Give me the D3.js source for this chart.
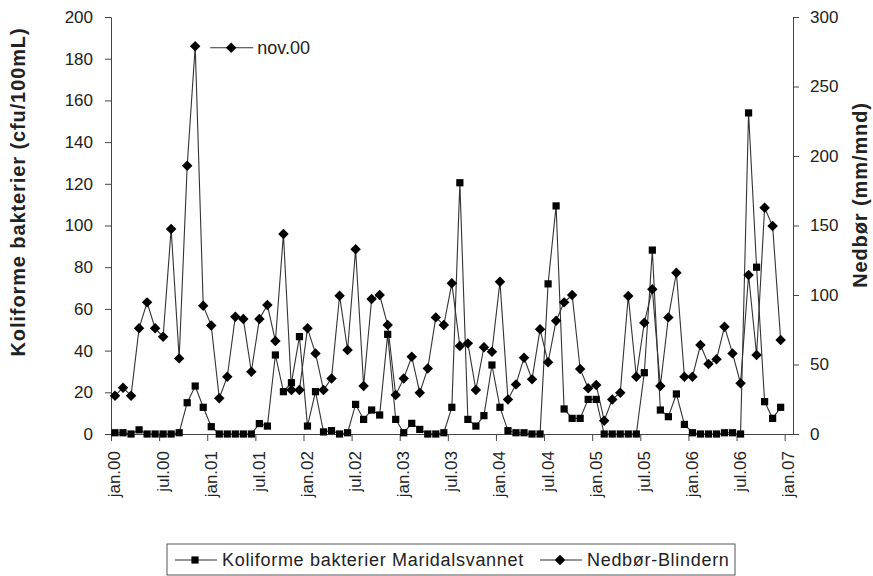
<!DOCTYPE html>
<html>
<head>
<meta charset="utf-8">
<script src="https://cdn.jsdelivr.net/npm/d3@7"></script>
<style>
  body { margin: 0; background: #fff; }
  svg text { font-family: "Liberation Sans", Arial, sans-serif; fill: #222; }
  .axisTitle { font-weight: bold; }
</style>
</head>
<body>
<div id="chart"></div>
<script>
// months jan.00 .. dec.06
var monthNames = ["jan", "feb", "mar", "apr", "mai", "jun", "jul", "aug", "sep", "okt", "nov", "des"];
var years = ["00", "01", "02", "03", "04", "05", "06"];
var tickLabels = ["jan.00", "jul.00", "jan.01", "jul.01", "jan.02", "jul.02", "jan.03", "jul.03",
  "jan.04", "jul.04", "jan.05", "jul.05", "jan.06", "jul.06", "jan.07"];

// Koliforme bakterier Maridalsvannet (cfu/100mL), left axis
var koliforme = [
  0.6, 0.6, 0, 2, 0, 0, 0, 0, 0.6, 15, 23, 12.8,
  3.5, 0, 0, 0, 0, 0, 5, 3.8, 37.9, 20.3, 24.6, 46.7,
  3.8, 20.3, 1, 1.6, 0, 0.6, 14.2, 7, 11.5, 9.1, 47.8, 7,
  0.6, 5.1, 2.2, 0, 0, 0.6, 12.8, 120.5, 7, 3.8, 8.8, 33.1,
  12.8, 1.6, 0.6, 0.6, 0, 0, 72, 109.4, 12, 7.5, 7.5, 16.6,
  16.6, 0, 0, 0, 0, 0, 29.4, 88.2, 11.5, 8.3, 19.2, 4.6,
  0.6, 0, 0, 0, 0.6, 0.6, 0, 154, 80, 15.5, 7.5, 12.8
];

// Nedbør-Blindern (mm/mnd), right axis
var nedbor = [
  27.6, 33.3, 27.6, 76, 94.7, 76, 70, 147.5, 54.4, 193, 279, 92.3,
  78, 25.7, 41.2, 84.4, 82.7, 44.8, 82.7, 92.8, 66.9, 143.9, 31.7, 31.7,
  76, 58, 31.7, 40, 99.5, 60.4, 132.9, 34.5, 97.1, 100, 78.4, 28,
  40, 55.6, 29.7, 47.2, 83.9, 78.4, 108.4, 63.3, 65.2, 31.7, 62.4, 59.2,
  109.6, 24.9, 35.7, 54.9, 39.3, 75.3, 51.6, 81.5, 94.7, 100, 46.8, 32.9,
  35.3, 9.6, 24.9, 29.7, 99.3, 41.2, 80.1, 104.1, 34.5, 83.9, 116, 41.2,
  41.2, 64, 50.4, 53.7, 77.2, 58, 36.5, 114.4, 56.8, 162.8, 149.6, 67.6
];

var leftTicks = [0, 20, 40, 60, 80, 100, 120, 140, 160, 180, 200];
var rightTicks = [0, 50, 100, 150, 200, 250, 300];

var categories = [];
years.forEach(function(y) {
  monthNames.forEach(function(m) { categories.push(m + "." + y); });
});

var svgWidth = 873, svgHeight = 576;
var margin = { top: 17, bottom: 142, left: 111, right: 80 };
var width = svgWidth - margin.left - margin.right;
var height = svgHeight - margin.top - margin.bottom;

var svg = d3.select("#chart").append("svg")
  .attr("width", svgWidth)
  .attr("height", svgHeight);

var chartGroup = svg.append("g")
  .attr("transform", `translate(${margin.left}, ${margin.top})`);

// x: month index, each month is a band, point in the middle
var xScale = d3.scaleLinear().domain([0, 85.04]).range([0, width]);
var yLeft = d3.scaleLinear().domain([0, 200]).range([height, 0]);
var yRight = d3.scaleLinear().domain([0, 300]).range([height, 0]);

// axes
var xAxis = d3.axisBottom(xScale)
  .tickValues(tickLabels.map(function(d, i) { return i * 6; }))
  .tickFormat(function(d, i) { return tickLabels[i]; })
  .tickSize(7).tickSizeOuter(0);

var xg = chartGroup.append("g")
  .attr("transform", `translate(0, ${height})`)
  .call(xAxis);
xg.selectAll("text")
  .attr("transform", "rotate(-90)")
  .attr("text-anchor", "end")
  .attr("x", -17)
  .attr("y", 3)
  .attr("dy", "0.35em")
  .style("font-size", "17px");

var yg = chartGroup.append("g")
  .call(d3.axisLeft(yLeft).tickValues(leftTicks).tickSize(6).tickSizeOuter(0).tickPadding(12));
yg.selectAll("text").style("font-size", "17px");

var yg2 = chartGroup.append("g")
  .attr("transform", `translate(${width}, 0)`)
  .call(d3.axisRight(yRight).tickValues(rightTicks).tickSize(6).tickSizeOuter(0).tickPadding(11));
yg2.selectAll("text").style("font-size", "17px");

chartGroup.selectAll(".domain, .tick line").attr("stroke", "#444");

// lines
var lineK = d3.line()
  .x(function(d, i) { return xScale(i + 0.5); })
  .y(function(d) { return yLeft(d); });
var lineN = d3.line()
  .x(function(d, i) { return xScale(i + 0.5); })
  .y(function(d) { return yRight(d); });

chartGroup.append("path").datum(nedbor)
  .attr("d", lineN).attr("fill", "none").attr("stroke", "#333").attr("stroke-width", 1.1);
chartGroup.append("path").datum(koliforme)
  .attr("d", lineK).attr("fill", "none").attr("stroke", "#333").attr("stroke-width", 1.1);

var diamond = d3.symbol().type(d3.symbolDiamond2).size(70);
var square = d3.symbol().type(d3.symbolSquare).size(52);

chartGroup.selectAll(".dia").data(nedbor).enter().append("path")
  .attr("class", "dia")
  .attr("d", diamond)
  .attr("transform", function(d, i) { return `translate(${xScale(i + 0.5)}, ${yRight(d)})`; })
  .attr("fill", "#000");

chartGroup.selectAll(".sq").data(koliforme).enter().append("path")
  .attr("class", "sq")
  .attr("d", square)
  .attr("transform", function(d, i) { return `translate(${xScale(i + 0.5)}, ${yLeft(d)})`; })
  .attr("fill", "#000");

// data label for the peak, level with the point
var peakIdx = nedbor.indexOf(d3.max(nedbor));
var lx = xScale(peakIdx + 0.5) + 15, ly = yRight(nedbor[peakIdx]) + 1.5;
chartGroup.append("line").attr("x1", lx).attr("x2", lx + 43).attr("y1", ly).attr("y2", ly)
  .attr("stroke", "#333").attr("stroke-width", 1.1);
chartGroup.append("path").attr("d", diamond)
  .attr("transform", `translate(${lx + 21}, ${ly})`).attr("fill", "#000");
chartGroup.append("text").attr("x", lx + 47).attr("y", ly).attr("dy", "0.35em")
  .style("font-size", "18px").text(categories[peakIdx]);

// axis titles
svg.append("text").attr("class", "axisTitle")
  .attr("transform", "translate(25, 192) rotate(-90)")
  .attr("text-anchor", "middle")
  .style("font-size", "20px")
  .style("letter-spacing", "0.9px")
  .text("Koliforme bakterier (cfu/100mL)");

svg.append("text").attr("class", "axisTitle")
  .attr("transform", "translate(867, 195) rotate(-90)")
  .attr("text-anchor", "middle")
  .style("font-size", "20px")
  .style("letter-spacing", "0.9px")
  .text("Nedbør (mm/mnd)");

// legend
var legend = svg.append("g").attr("transform", "translate(167, 544)");
legend.append("rect").attr("x", 0).attr("y", 0).attr("width", 568).attr("height", 31)
  .attr("fill", "#fff").attr("stroke", "#555").attr("stroke-width", 1);

var items = [
  { name: "Koliforme bakterier Maridalsvannet", sym: square, x: 8 },
  { name: "Nedbør-Blindern", sym: diamond, x: 373 }
];
var li = legend.selectAll(".li").data(items).enter().append("g")
  .attr("transform", function(d) { return `translate(${d.x}, 16)`; });
li.append("line").attr("x1", 0).attr("x2", 42).attr("stroke", "#333").attr("stroke-width", 1.1);
li.append("path").attr("d", function(d) { return d.sym(); })
  .attr("transform", "translate(20, 0)").attr("fill", "#000");
li.append("text").attr("x", 47).attr("dy", "0.35em")
  .style("font-size", "18px").style("letter-spacing", "0.7px")
  .text(function(d) { return d.name; });
</script>
</body>
</html>
